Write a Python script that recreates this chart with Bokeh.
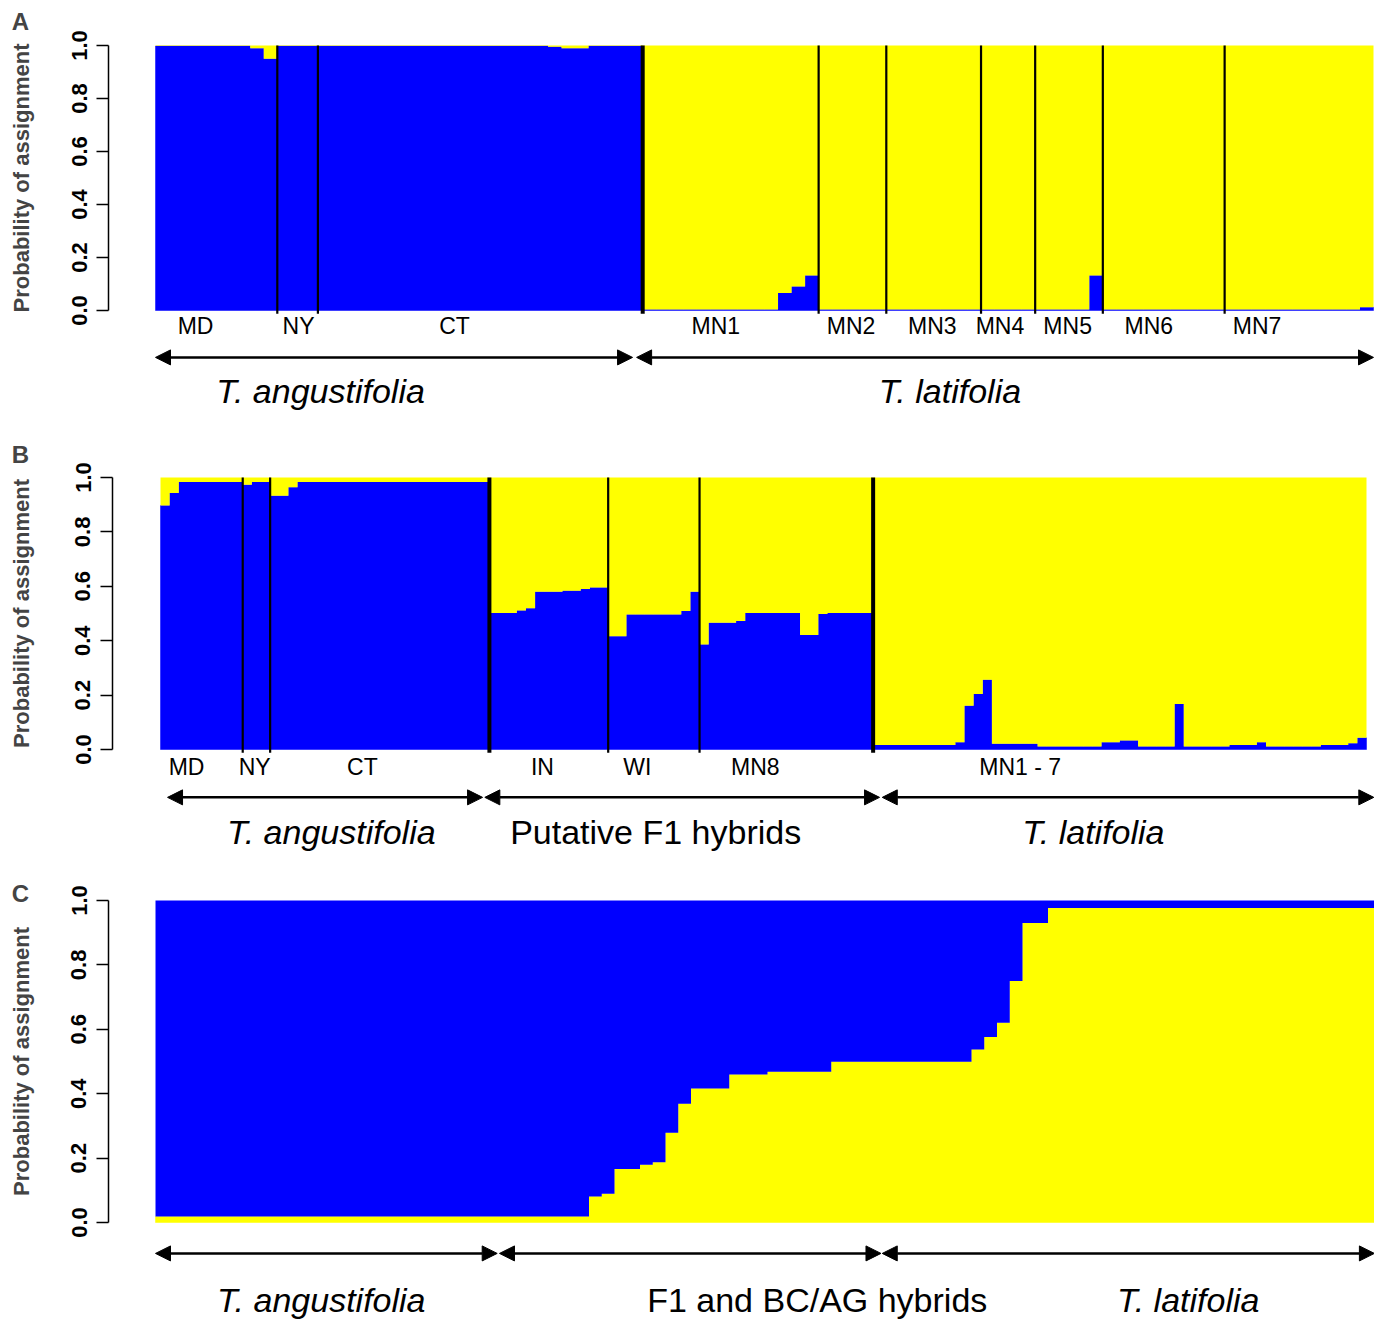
import math
from bokeh.plotting import figure
from bokeh.models import (Range1d, FixedTicker, PrintfTickFormatter, Label, Arrow,
                          NormalHead, LinearAxis)
from bokeh.layouts import column
from bokeh.embed import file_html
from bokeh.resources import INLINE
from bokeh.core.properties import value

# ---------------- data ----------------
# Panel A: probability of assignment to the blue (T. angustifolia) cluster
A_MD = [0.998, 0.998, 0.998, 0.998, 0.998, 0.998, 0.998, 0.99, 0.95]
A_NY = [0.998, 0.998, 0.998]
A_CT = [0.998, 0.998, 0.998, 0.998, 0.998, 0.998, 0.998, 0.998, 0.998, 0.998,
        0.998, 0.998, 0.998, 0.998, 0.998, 0.998, 0.998, 0.995, 0.99, 0.99,
        0.998, 0.998, 0.998, 0.998]
A_MN1 = [0.004, 0.004, 0.004, 0.004, 0.004, 0.004, 0.004, 0.004, 0.004, 0.004,
         0.066, 0.091, 0.132]
A_MN2 = [0.004, 0.004, 0.004, 0.004, 0.004]
A_MN3 = [0.004, 0.004, 0.004, 0.004, 0.004, 0.004, 0.004]
A_MN4 = [0.004, 0.004, 0.004, 0.004]
A_MN5 = [0.004, 0.004, 0.004, 0.004, 0.132]
A_MN6 = [0.004, 0.004, 0.004, 0.004, 0.004, 0.004, 0.004, 0.004, 0.004]
A_MN7 = [0.004, 0.004, 0.004, 0.004, 0.004, 0.004, 0.004, 0.004, 0.004, 0.004, 0.012]
A_groups = [A_MD, A_NY, A_CT, A_MN1, A_MN2, A_MN3, A_MN4, A_MN5, A_MN6, A_MN7]
A_pop_names = ["MD", "NY", "CT", "MN1", "MN2", "MN3", "MN4", "MN5", "MN6", "MN7"]
A_pop_x = [2.96, 10.57, 22.1, 41.4, 51.4, 57.4, 62.4, 67.4, 73.4, 81.4]
A_thick = [2]            # separator after group index (species boundary)
A_species = ["T. angustifolia", "T. latifolia"]
A_species_x = [12.2, 58.7]
A_species_italic = [True, True]
A_arrows = [(0.0, 35.25), (35.55, 90.0)]

# Panel B
B_MD = [0.897, 0.943, 0.983, 0.983, 0.983, 0.983, 0.983, 0.983, 0.983]
B_NY = [0.973, 0.983, 0.983]
B_CT = [0.933, 0.933, 0.964, 0.983, 0.983, 0.983, 0.983, 0.983, 0.983, 0.983,
        0.983, 0.983, 0.983, 0.983, 0.983, 0.983, 0.983, 0.983, 0.983, 0.983,
        0.983, 0.983, 0.983, 0.983]
B_IN = [0.502, 0.502, 0.502, 0.511, 0.519, 0.580, 0.580, 0.580, 0.584, 0.584,
        0.590, 0.596, 0.596]
B_WI = [0.416, 0.416, 0.496, 0.496, 0.496, 0.496, 0.496, 0.496, 0.509, 0.580]
B_MN8 = [0.386, 0.466, 0.466, 0.466, 0.472, 0.502, 0.502, 0.502, 0.502, 0.502,
         0.502, 0.421, 0.421, 0.498, 0.502, 0.502, 0.502, 0.502, 0.502]
B_MN = [0.017, 0.017, 0.017, 0.017, 0.017, 0.017, 0.017, 0.017, 0.017, 0.027,
        0.161, 0.204, 0.256, 0.021, 0.021, 0.021, 0.021, 0.021, 0.011, 0.011,
        0.011, 0.011, 0.011, 0.011, 0.011, 0.027, 0.027, 0.033, 0.033, 0.011,
        0.011, 0.011, 0.011, 0.167, 0.011, 0.011, 0.011, 0.011, 0.011, 0.017,
        0.017, 0.017, 0.027, 0.011, 0.011, 0.011, 0.011, 0.011, 0.011, 0.017,
        0.017, 0.017, 0.023, 0.043]
B_groups = [B_MD, B_NY, B_CT, B_IN, B_WI, B_MN8, B_MN]
B_pop_names = ["MD", "NY", "CT", "IN", "WI", "MN8", "MN1 - 7"]
B_pop_x = [2.85, 10.3, 22.1, 41.8, 52.2, 65.1, 94.1]
B_thick = [2, 5]
B_species = ["T. angustifolia", "Putative F1 hybrids", "T. latifolia"]
B_species_x = [18.7, 54.2, 102.1]
B_species_italic = [True, False, True]
B_arrows = [(0.77, 35.25), (35.5, 78.7), (79.0, 132.8)]

# Panel C: probability of assignment to the yellow (T. latifolia) cluster, sorted
C_yellow = [0.019, 0.019, 0.019, 0.019, 0.019, 0.019, 0.019, 0.019, 0.019, 0.019,
            0.019, 0.019, 0.019, 0.019, 0.019, 0.019, 0.019, 0.019, 0.019, 0.019,
            0.019, 0.019, 0.019, 0.019, 0.019, 0.019, 0.019, 0.019, 0.019, 0.019,
            0.019, 0.019, 0.019, 0.019,
            0.081, 0.089, 0.166, 0.166, 0.179, 0.187, 0.279, 0.369, 0.416, 0.416,
            0.416, 0.460, 0.460, 0.460, 0.468, 0.468, 0.468, 0.468, 0.468, 0.499,
            0.499, 0.499, 0.499, 0.499, 0.499, 0.499, 0.499, 0.499, 0.499, 0.499,
            0.537, 0.576, 0.620, 0.750, 0.930, 0.930,
            0.977, 0.977, 0.977, 0.977, 0.977, 0.977, 0.977, 0.977, 0.977, 0.977,
            0.977, 0.977, 0.977, 0.977, 0.977, 0.977, 0.977, 0.977, 0.977, 0.977,
            0.977, 0.977, 0.977, 0.977, 0.977, 0.977]
C_species = ["T. angustifolia", "F1 and BC/AG hybrids", "T. latifolia"]
C_species_x = [13.0, 51.9, 81.0]
C_species_italic = [True, False, True]
C_arrows = [(0.0, 26.8), (26.98, 56.9), (57.0, 95.6)]

Y_TICKS = [0.0, 0.2, 0.4, 0.6, 0.8, 1.0]

# ---------------- styling ----------------
BLUE = "#0000FF"
YELLOW = "#FFFF00"
FONT = "Liberation Sans"
FIG_W = 1374


def step_outline(values):
    xs, ys = [], []
    for i, v in enumerate(values):
        xs += [i, i + 1]
        ys += [v, v]
    return xs, ys


def make_panel(letter, fig_top, fig_h, axis_px, data_left, unit, y1_px, y0_px,
               values, blue_bottom, groups=None, pop_names=None, pop_x=None,
               pop_y=None, thick=(), species=(), species_x=(), species_italic=(),
               species_y=0.0, arrows=(), arrow_y=0.0, letter_px=(20, 20)):
    k = (y0_px - y1_px)
    fig_bottom = fig_top + fig_h
    y_start = -(fig_bottom - y0_px) / k
    y_end = 1 + (y1_px - fig_top) / k
    x_start = -data_left / unit
    x_end = (FIG_W - data_left) / unit

    p = figure(width=FIG_W, height=fig_h, output_backend="svg", toolbar_location=None,
               x_range=Range1d(x_start, x_end), y_range=Range1d(y_start, y_end),
               x_axis_location=None, y_axis_location=None,
               min_border_left=0, min_border_right=0,
               min_border_top=0, min_border_bottom=0)
    p.outline_line_color = None
    p.xgrid.visible = False
    p.ygrid.visible = False
    p.background_fill_color = "white"

    n = len(values)
    sx, sy = step_outline(values)
    bottom_col, top_col = (BLUE, YELLOW) if blue_bottom else (YELLOW, BLUE)
    # lower component (0 .. q) and upper component (q .. 1), drawn as step areas
    p.patch(x=[0] + sx + [n], y=[0] + sy + [0], fill_color=bottom_col,
            line_color=bottom_col, line_width=0.5)
    p.patch(x=[0] + sx + [n], y=[1] + sy + [1], fill_color=top_col,
            line_color=None)

    if groups is not None:
        cum = 0
        for gi, g in enumerate(groups[:-1]):
            cum += len(g)
            lw = 4 if gi in thick else 2.2
            p.segment(x0=[cum], y0=[-0.012], x1=[cum], y1=[1.0],
                      line_color="black", line_width=lw)
        p.text(x=pop_x, y=[pop_y] * len(pop_x), text=pop_names,
               text_font=value(FONT), text_font_size="23px", text_color="black",
               text_align="center", text_baseline="middle")

    for (xs, xe) in arrows:
        p.add_layout(Arrow(start=NormalHead(size=15, fill_color="black", line_color="black"),
                           end=NormalHead(size=15, fill_color="black", line_color="black"),
                           x_start=xs, y_start=arrow_y, x_end=xe, y_end=arrow_y,
                           line_width=2.5, line_color="black"))

    for name, tx, it in zip(species, species_x, species_italic):
        p.text(x=[tx], y=[species_y], text=[name], text_font=value(FONT),
               text_font_size="34px", text_font_style="italic" if it else "normal",
               text_color="black", text_align="center", text_baseline="middle")

    ax = LinearAxis(fixed_location=(axis_px - data_left) / unit)
    ax.ticker = FixedTicker(ticks=Y_TICKS)
    ax.bounds = (0, 1)
    ax.formatter = PrintfTickFormatter(format="%.1f")
    ax.major_label_orientation = "vertical"
    ax.major_label_text_font = FONT
    ax.major_label_text_font_style = "bold"
    ax.major_label_text_font_size = "22px"
    ax.major_label_text_color = "black"
    ax.major_label_standoff = 10
    ax.major_tick_out = 12
    ax.major_tick_in = 0
    ax.major_tick_line_width = 1.5
    ax.major_tick_line_color = "black"
    ax.minor_tick_out = 0
    ax.minor_tick_in = 0
    ax.axis_line_width = 1.5
    ax.axis_line_color = "black"
    p.add_layout(ax, "left")

    lx, ly = letter_px
    p.add_layout(Label(x=lx, x_units="screen", y=(y0_px - ly) / k, y_units="data",
                       text=letter, text_font=FONT, text_font_style="bold",
                       text_font_size="24px", text_align="center", text_baseline="middle"))
    p.add_layout(Label(x=21, x_units="screen", y=0.5, y_units="data",
                       text="Probability of assignment", angle=math.pi / 2,
                       text_font=FONT, text_font_style="bold", text_font_size="22px",
                       text_align="center", text_baseline="middle"))
    return p


A_values = [v for g in A_groups for v in g]
B_values = [v for g in B_groups for v in g]

pA = make_panel("A", fig_top=0, fig_h=438, axis_px=108, data_left=155,
                unit=1218 / len(A_values), y1_px=45, y0_px=310, values=A_values,
                blue_bottom=True, groups=A_groups, pop_names=A_pop_names, pop_x=A_pop_x,
                pop_y=-0.060, thick=A_thick, species=A_species, species_x=A_species_x,
                species_italic=A_species_italic, species_y=-0.302, arrows=A_arrows,
                arrow_y=-0.177, letter_px=(20, 21))

pB = make_panel("B", fig_top=438, fig_h=430, axis_px=112, data_left=160,
                unit=1206 / len(B_values), y1_px=477, y0_px=749, values=B_values,
                blue_bottom=True, groups=B_groups, pop_names=B_pop_names, pop_x=B_pop_x,
                pop_y=-0.066, thick=B_thick, species=B_species, species_x=B_species_x,
                species_italic=B_species_italic, species_y=-0.305, arrows=B_arrows,
                arrow_y=-0.176, letter_px=(20, 454))

pC = make_panel("C", fig_top=868, fig_h=451, axis_px=108, data_left=155,
                unit=12.75, y1_px=900, y0_px=1222, values=C_yellow,
                blue_bottom=False, species=C_species, species_x=C_species_x,
                species_italic=C_species_italic, species_y=-0.242, arrows=C_arrows,
                arrow_y=-0.096, letter_px=(20, 893))

layout = column(pA, pB, pC, spacing=0)
open("out.html", "w").write(file_html(layout, INLINE))
